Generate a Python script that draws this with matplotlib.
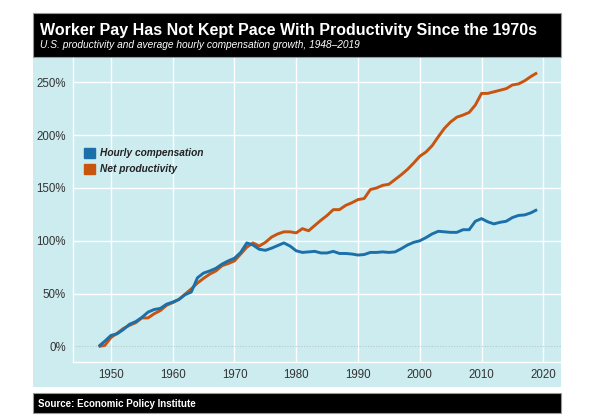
import numpy as np
import matplotlib
matplotlib.use('Agg')
import matplotlib.pyplot as plt
from matplotlib.patches import Rectangle, Patch
from matplotlib.ticker import FuncFormatter

plt.rcParams['font.family'] = ['Liberation Sans', 'DejaVu Sans']

# DATA (cumulative % change since 1948)
years = list(range(1948, 2020))
hourly_comp = [0, 5, 10.5, 12, 16, 21, 23.5, 27.5, 32.5, 35,
               36, 40, 42, 44.5, 49, 51.5, 65, 69.5, 71.5, 74,
               78, 81, 83.5, 89, 98, 96, 92, 91, 93, 95.5,
               98, 95, 90.5, 89, 89.5, 90, 88.5, 88.5, 90, 88,
               88, 87.5, 86.5, 87, 89, 89, 89.5, 89, 89.5, 92.5,
               96, 98.5, 100, 103, 106.5, 109, 108.5, 108, 108, 110.5,
               110.5, 118.5, 121, 118, 116, 117.5, 118.5, 122, 124, 124.5,
               126.5, 129.5]
net_prod = [0, 1, 8.5, 12.5, 17, 20, 22.5, 27, 27, 31,
            34, 39, 41.5, 44.5, 49.5, 54.5, 60, 64.5, 68.5, 71.5,
            76.5, 78.5, 81, 87.5, 94, 98, 95, 98.5, 103.5, 106.5,
            108.5, 108.5, 107.5, 111.5, 109.5, 114.5, 119.5, 124, 129.5, 129.5,
            133.5, 136, 139, 140, 148.5, 150, 152.5, 153.5, 158, 162.5,
            167.5, 173.5, 180, 184, 190, 198.5, 206.5, 212.5, 217, 219,
            221.5, 228.5, 239.5, 239.5, 241, 242.5, 244, 247.5, 248.5, 251.5,
            255.5, 259]
series_names = ['Hourly compensation', 'Net productivity']

BLUE = '#1b70a9'
ORANGE = '#c9540f'
PANEL = '#cdecf0'

W, H = 600, 418
fig = plt.figure(figsize=(6, 4.18), dpi=100)

# background panel and title / source bars (pixel coords -> figure fractions)
def box(x0, y0, x1, y1, **kw):
    fig.patches.append(Rectangle((x0 / W, 1 - y1 / H), (x1 - x0) / W, (y1 - y0) / H,
                                 transform=fig.transFigure, zorder=-5, **kw))

box(32.5, 58, 561, 387, facecolor=PANEL, edgecolor='none')
box(32.5, 12.5, 561, 56.5, facecolor='black', edgecolor='#999999', linewidth=0.8)
box(32.5, 392.5, 561, 413, facecolor='black', edgecolor='#999999', linewidth=0.8)

fig.text(40 / W, 1 - 34.5 / H, 'Worker Pay Has Not Kept Pace With Productivity Since the 1970s',
         color='white', fontsize=11.5, fontweight='bold', va='baseline')
fig.text(40.5 / W, 1 - 48 / H, 'U.S. productivity and average hourly compensation growth, 1948\u20132019',
         color='white', fontsize=7.3, fontstyle='italic', va='baseline')
fig.text(38 / W, 1 - 406.8 / H, 'Source: Economic Policy Institute',
         color='white', fontsize=7.05, fontweight='bold', va='baseline')

# plot area
ax = fig.add_axes([73 / W, 1 - 362 / H, (561 - 73) / W, (362 - 58) / H])
ax.set_facecolor('none')
ax.plot(years, net_prod, color=ORANGE, linewidth=2.1, solid_capstyle='butt', zorder=3)
ax.plot(years, hourly_comp, color=BLUE, linewidth=2.1, solid_capstyle='butt', zorder=4)

ax.set_xlim(1943.85, 2022.87)
ax.set_ylim(-14.7, 273)
ax.set_xticks(range(1950, 2021, 10))
ax.set_yticks([0, 50, 100, 150, 200, 250])
ax.yaxis.set_major_formatter(FuncFormatter(lambda v, p: f'{v:.0f}%'))
ax.grid(True, color='white', linewidth=1.0)
ax.axhline(0, color='#b8c8cc', linewidth=0.8, linestyle=(0, (1, 1.5)), zorder=2)
ax.set_axisbelow(True)
for s in ['top', 'right']:
    ax.spines[s].set_visible(False)
for s in ['left', 'bottom']:
    ax.spines[s].set_color('white')
    ax.spines[s].set_linewidth(1.0)
ax.tick_params(length=0, labelsize=8.3, labelcolor='#333333', pad=5)
# the 0% line is drawn dotted instead of as a grid line
ax.get_ygridlines()[0].set_visible(False)

handles = [Patch(facecolor=BLUE, edgecolor=BLUE), Patch(facecolor=ORANGE, edgecolor=ORANGE)]
leg = ax.legend(handles, series_names, loc='upper left', bbox_to_anchor=(78.5 / W, 1 - 143 / H),
                bbox_transform=fig.transFigure, frameon=False, handlelength=1.1, handleheight=1.1,
                handletextpad=0.55, labelspacing=0.55, borderpad=0,
                prop={'size': 7.3, 'style': 'italic', 'weight': 'bold'})
for t in leg.get_texts():
    t.set_color('#222222')

fig.savefig('out.png', dpi=100)
